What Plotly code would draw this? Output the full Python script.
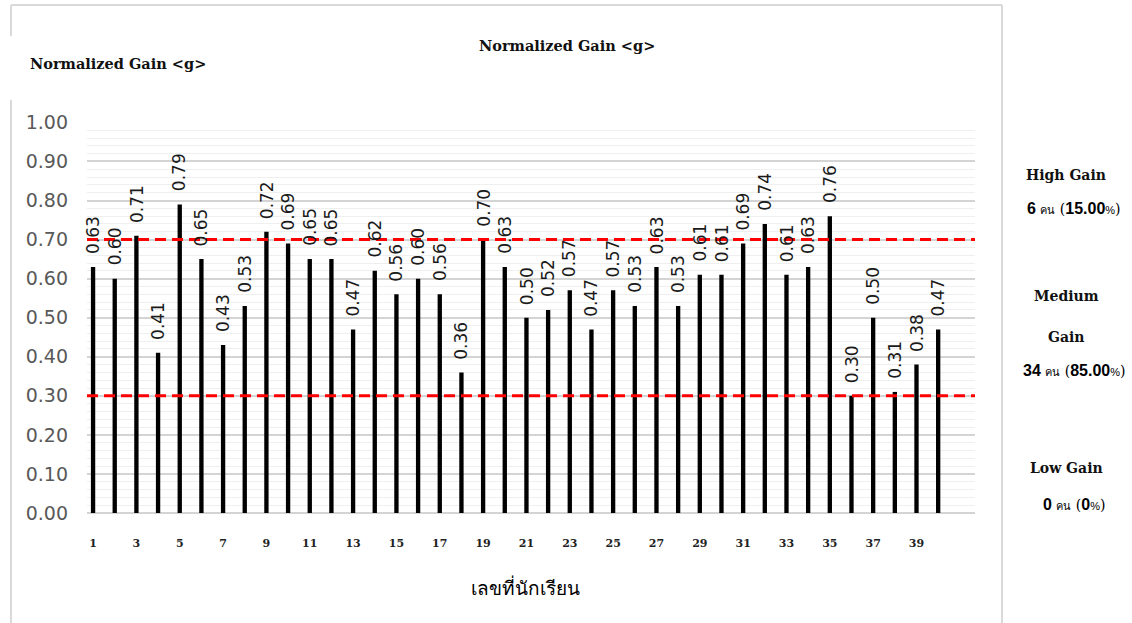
import plotly.graph_objects as go

# Student numbers and their normalized gain <g>
students = list(range(1, 41))
gains = [0.63, 0.60, 0.71, 0.41, 0.79, 0.65, 0.43, 0.53, 0.72, 0.69,
         0.65, 0.65, 0.47, 0.62, 0.56, 0.60, 0.56, 0.36, 0.70, 0.63,
         0.50, 0.52, 0.57, 0.47, 0.57, 0.53, 0.63, 0.53, 0.61, 0.61,
         0.69, 0.74, 0.61, 0.63, 0.76, 0.30, 0.50, 0.31, 0.38, 0.47]
x_ticks = list(range(1, 40, 2))
y_ticks = [round(i * 0.1, 1) for i in range(11)]
y_tick_text = [f"{v:.2f}" for v in y_ticks]

# gain level cut-offs
high_cut = 0.70
low_cut = 0.30

# summary per level: label lines, count, percent
levels = [
    (["High Gain"], "6", "15.00"),
    (["Medium", "Gain"], "34", "85.00"),
    (["Low Gain"], "0", "0"),
]

fig = go.Figure()
fig.add_trace(go.Bar(
    x=students, y=gains, width=0.2,
    marker=dict(color="#000000", line=dict(width=0)),
    hoverinfo="skip", showlegend=False,
))

annotations = []
for s, g in zip(students, gains):
    annotations.append(dict(
        x=s, y=g, xref="x", yref="y", text=f"{g:.2f}", textangle=-90,
        showarrow=False, yanchor="bottom", xanchor="center", yshift=11,
        font=dict(family="DejaVu Sans", size=17, color="#1a1a1a"),
    ))

title_font = dict(family="DejaVu Serif", size=14.5, color="#111111")
side_font = dict(family="DejaVu Serif", size=14, color="#111111")
annotations.append(dict(x=567, y=45, xref="paper", yref="paper", text="<b>Normalized Gain &lt;g&gt;</b>",
                        showarrow=False, font=title_font))
annotations.append(dict(x=28, y=64, xref="paper", yref="paper", text="<b>Normalized Gain &lt;g&gt;</b>",
                        showarrow=False, xanchor="left", font=title_font))

annotations.append(dict(x=525, y=587, xref="paper", yref="paper", text="เลขที่นักเรียน",
                        showarrow=False, font=dict(family="DejaVu Sans", size=19, color="#000000")))

label_y = [[175], [296, 337], [468]]
count_y = [209, 370, 504]
for (names, n, pct), lys, cy in zip(levels, label_y, count_y):
    for name, ly in zip(names, lys):
        annotations.append(dict(x=1066, y=ly, xref="paper", yref="paper", text=f"<b>{name}</b>",
                                showarrow=False, font=side_font))
    annotations.append(dict(
        x=1074, y=cy, xref="paper", yref="paper",
        text=(f"<b>{n}</b> <span style='font-size:11px'>คน</span> "
              f"<span style='font-family:DejaVu Serif;font-size:14px'>(</span><b>{pct}</b>"
              f"<span style='font-size:11px'>%</span>"
              f"<span style='font-family:DejaVu Serif;font-size:14px'>)</span>"),
        showarrow=False, font=dict(family="Liberation Sans", size=16, color="#000000")))

# pixel-space annotations are converted to paper fractions below
W, H = 1132, 623
ML, MR, MT, MB = 87, W - 975, 122, H - 513
pw, ph = W - ML - MR, H - MT - MB
for a in annotations:
    if a["xref"] == "paper":
        a["x"] = (a["x"] - ML) / pw
        a["y"] = 1 - (a["y"] - MT) / ph
        a.setdefault("yanchor", "middle")
        a.setdefault("xanchor", "center")

shapes = []
for yv in (high_cut, low_cut):
    shapes.append(dict(type="line", xref="paper", yref="y", x0=0, x1=1, y0=yv, y1=yv,
                       line=dict(color="#FF0000", width=3, dash="11px,6px"), layer="above"))
# chart frame
frame = "#d9d9d9"
def px(xp, yp):
    return (xp - ML) / pw, 1 - (yp - MT) / ph
for (x0, y0), (x1, y1) in [((11, 5), (11, 36)), ((11, 100), (11, 623)),
                           ((11, 5), (1002, 5)), ((1002, 5), (1002, 623))]:
    a0, b0 = px(x0, y0)
    a1, b1 = px(x1, y1)
    shapes.append(dict(type="line", xref="paper", yref="paper", x0=a0, y0=b0, x1=a1, y1=b1,
                       line=dict(color=frame, width=2), layer="below"))

fig.update_layout(
    width=W, height=H, margin=dict(l=ML, r=MR, t=MT, b=MB),
    paper_bgcolor="white", plot_bgcolor="white",
    annotations=annotations, shapes=shapes, bargap=0.8,
    xaxis=dict(range=[0.72, 41.7], tickmode="array", tickvals=x_ticks,
               ticktext=[f"<b>{t}</b>" for t in x_ticks], showgrid=False, zeroline=False,
               ticks="", ticklabelstandoff=22,
               tickfont=dict(family="DejaVu Serif", size=11, color="#222222")),
    yaxis=dict(range=[0, 1.001], tickmode="array", tickvals=y_ticks, ticktext=y_tick_text,
               showgrid=True, gridcolor="#d4d4d4", gridwidth=1.5,
               zeroline=True, zerolinecolor="#d4d4d4", zerolinewidth=1.5,
               ticks="", ticklabelstandoff=18,
               minor=dict(dtick=0.02, showgrid=True, gridcolor="#efefef", gridwidth=1),
               tickfont=dict(family="DejaVu Sans", size=19, color="#595959")),
)
fig.update_traces(cliponaxis=False)

fig.write_html("out.html")
